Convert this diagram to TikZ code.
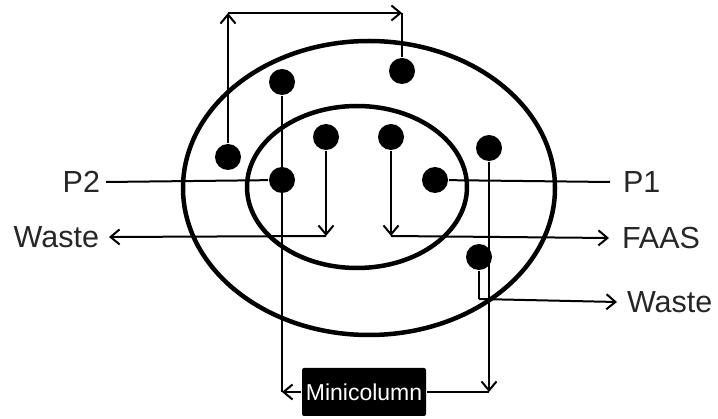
\documentclass[tikz,border=0pt]{standalone}
\usepackage{fontspec}
\setmainfont{Liberation Sans}
\usetikzlibrary{arrows.meta}

\tikzset{
  dot/.style={circle,fill=black,minimum size=26pt,inner sep=0pt},
  arr/.style={-{Straight Barb[length=9pt,width=15pt,line width=2pt]}},
  lbl/.style={font=\fontsize{30.5}{34}\selectfont,text=black!85,inner sep=0pt},
  ring/.style={line width=4.5pt},
}

\begin{document}
\begin{tikzpicture}[x=1pt,y=-1pt,line width=2pt]
  \useasboundingbox (0,0) rectangle (718,419);
  % two zones
  \draw[ring] (369,188) ellipse (186 and 147);
  \draw[ring] (357,187) ellipse (110 and 81);
  % positions
  \node[dot] (a) at (228,157) {};
  \node[dot] (b) at (282,82) {};
  \node[dot] (c) at (402,71) {};
  \node[dot] (d) at (326,137) {};
  \node[dot] (e) at (391,137) {};
  \node[dot] (f) at (282,180) {};
  \node[dot] (g) at (435,180) {};
  \node[dot] (h) at (489,148) {};
  \node[dot] (i) at (479,257) {};
  % labels
  \node[lbl,anchor=east] (p2) at (101,182) {P2};
  \node[lbl,anchor=west] (p1) at (622,182) {P1};
  \node[lbl,anchor=east] (wl) at (100,237) {Waste};
  \node[lbl,anchor=west] (faas) at (621,238) {FAAS};
  \node[lbl,anchor=west] (wr) at (626,302) {Waste};
  \node[fill=black,text=white,rounded corners=2pt,minimum width=124pt,
        minimum height=48pt,inner sep=0pt,font=\fontsize{23}{25}\selectfont]
        (mc) at (364,392) {Minicolumn};
  % corners
  \coordinate (tl) at (228,13);
  \coordinate (tr) at (402,13);
  \coordinate (dc) at (326,236);
  \coordinate (ec) at (391,236);
  \coordinate (ic) at (479,299);
  \coordinate (bl) at (282,392);
  \coordinate (br) at (489,392);
  % connectors
  \draw[arr] (a) -- (tl);
  \draw[arr] (tl) -- (tr);
  \draw (tr) -- (c);
  \draw (p2.east) ++(5,0) -- (f);
  \draw (g) -- ([xshift=-12pt]p1.west);
  \draw[arr] (d) -- (dc);
  \draw[arr] (dc) -- ([xshift=9pt]wl.east);
  \draw[arr] (e) -- (ec);
  \draw[arr] (ec) -- ([xshift=-12pt]faas.west);
  \draw (i) -- (ic);
  \draw[arr] (ic) -- ([xshift=-9pt]wr.west);
  \draw (b) -- (bl);
  \draw[arr] (mc) -- (bl);
  \draw[arr] (h) -- (br);
  \draw (br) -- (mc);
\end{tikzpicture}
\end{document}
